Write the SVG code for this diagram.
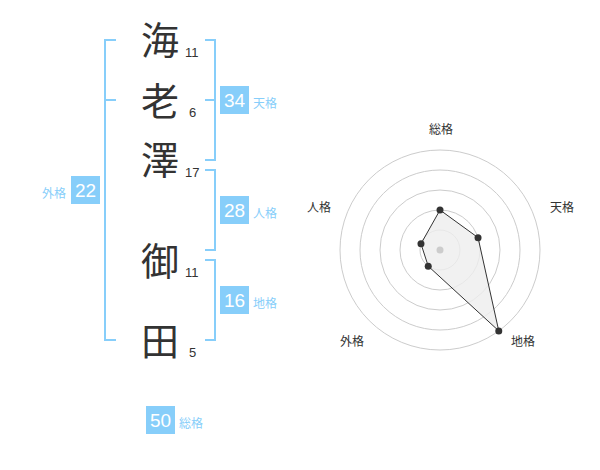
<svg xmlns="http://www.w3.org/2000/svg" width="600" height="470" viewBox="0 0 600 470">
<style>
.kanji{font-family:"Noto Sans CJK JP","Noto Sans CJK SC",sans-serif;font-size:38px;fill:#333;text-anchor:middle}
.stroke{font-family:"Liberation Sans",Arial,sans-serif;font-size:13px;fill:#333}
.br{fill:none;stroke:#87CEFA;stroke-width:2}
.box{fill:#87CEFA}
.num{font-family:"Liberation Sans",Arial,sans-serif;font-size:19px;fill:#fff;text-anchor:middle}
.lbl{font-family:"Noto Sans CJK JP","Noto Sans CJK SC",sans-serif;font-size:12px;fill:#87CEFA}
.grid{fill:none;stroke:#ccc;stroke-width:1}
.axis{font-family:"Noto Sans CJK JP","Noto Sans CJK SC",sans-serif;font-size:12px;fill:#333;text-anchor:middle}
.pt{fill:#333}
</style>
<g id="chars">
<g id="c1"><text class="kanji" x="160" y="54">海</text><text class="stroke" x="185" y="57">11</text></g>
<g id="c2"><text class="kanji" x="160" y="115">老</text><text class="stroke" x="189" y="117">6</text></g>
<g id="c3"><text class="kanji" x="160" y="174">澤</text><text class="stroke" x="185" y="177">17</text></g>
<g id="c4"><text class="kanji" x="160" y="275">御</text><text class="stroke" x="185" y="277">11</text></g>
<g id="c5"><text class="kanji" x="160" y="355">田</text><text class="stroke" x="189" y="357">5</text></g>
</g>
<g id="connectors">
<path class="br" d="M116,40 H105 V340 H116 M105,100 H116"/>
<path class="br" d="M205,40 H215 V160 H205 M205,100 H215"/>
<path class="br" d="M205,170 H215 V250 H205"/>
<path class="br" d="M205,260 H215 V340 H205"/>
</g>
<g id="gaikaku"><rect class="box" x="71" y="176" width="29" height="28"/><text class="num" x="85.5" y="197">22</text><text class="lbl" x="66" y="198" text-anchor="end">外格</text></g>
<g id="tenkaku"><rect class="box" x="220" y="86" width="29" height="28"/><text class="num" x="234.5" y="107">34</text><text class="lbl" x="253" y="108">天格</text></g>
<g id="jinkaku"><rect class="box" x="220" y="196" width="29" height="28"/><text class="num" x="234.5" y="217">28</text><text class="lbl" x="253" y="218">人格</text></g>
<g id="chikaku"><rect class="box" x="220" y="286" width="29" height="28"/><text class="num" x="234.5" y="307">16</text><text class="lbl" x="253" y="308">地格</text></g>
<g id="soukaku"><rect class="box" x="146" y="406" width="29" height="28"/><text class="num" x="160.5" y="427">50</text><text class="lbl" x="179" y="428">総格</text></g>
<g id="radar">
<circle class="grid" cx="440" cy="250" r="20"/>
<circle class="grid" cx="440" cy="250" r="40"/>
<circle class="grid" cx="440" cy="250" r="60"/>
<circle class="grid" cx="440" cy="250" r="80"/>
<circle class="grid" cx="440" cy="250" r="100"/>
<polygon points="440,210 478.04,237.64 498.78,330.9 428.24,266.18 420.98,243.82" fill="#eee" fill-opacity="0.8" stroke="#333" stroke-width="1"/>
<circle cx="440" cy="250" r="3.5" fill="#ccc"/>
<circle class="pt" cx="440" cy="210" r="3.5"/>
<circle class="pt" cx="478.04" cy="237.64" r="3.5"/>
<circle class="pt" cx="498.78" cy="330.9" r="3.5"/>
<circle class="pt" cx="428.24" cy="266.18" r="3.5"/>
<circle class="pt" cx="420.98" cy="243.82" r="3.5"/>
<text class="axis" x="441" y="134">総格</text>
<text class="axis" x="562" y="212">天格</text>
<text class="axis" x="523" y="346">地格</text>
<text class="axis" x="352" y="346">外格</text>
<text class="axis" x="319" y="212">人格</text>
</g>
</svg>
